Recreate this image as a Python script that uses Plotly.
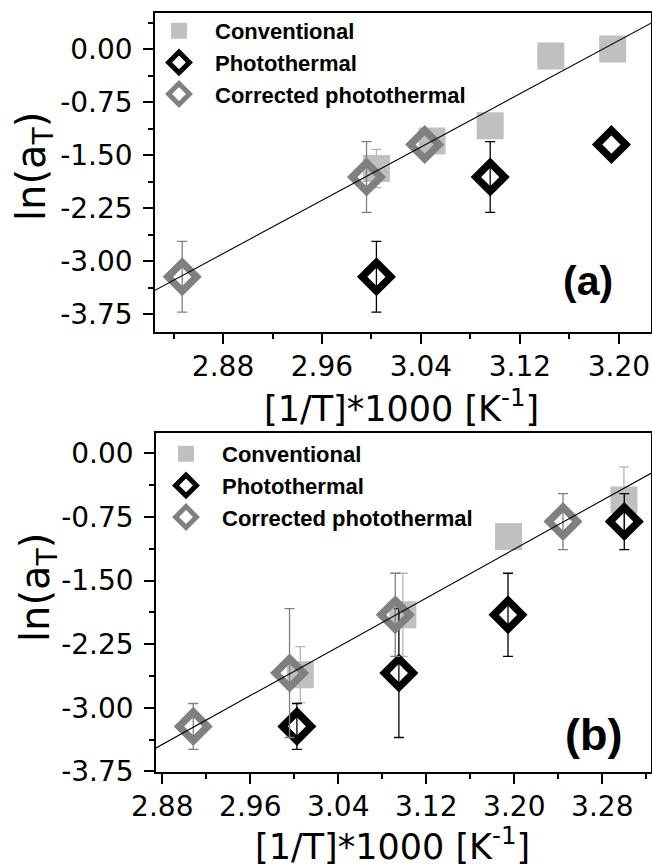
import plotly.graph_objects as go

W, H = 652, 864

# ---------------- Panel (a) data ----------------
conv_x_a = [3.004, 3.049, 3.096, 3.145, 3.195]
conv_y_a = [-1.69, -1.30, -1.085, -0.10, 0.00]
conv_e_a = [0.27, 0.12, None, None, None]

photo_x_a = [3.004, 3.096, 3.194]
photo_y_a = [-3.22, -1.81, -1.35]
photo_e_a = [0.50, 0.50, None]

corr_x_a = [2.847, 2.996, 3.043]
corr_y_a = [-3.22, -1.81, -1.35]
corr_e_a = [0.50, 0.50, None]

fit_a = [9.414, -30.005]          # slope, intercept
xrange_a = [2.825, 3.226]
yrange_a = [-4.005, 0.505]
xticks_a = [2.88, 2.96, 3.04, 3.12, 3.20]

# ---------------- Panel (b) data ----------------
conv_x_b = [3.0055, 3.0987, 3.1948, 3.2997]
conv_y_b = [-2.61, -1.904, -0.982, -0.55]
conv_e_b = [0.33, 0.49, None, 0.39]

photo_x_b = [3.0024, 3.0951, 3.1943, 3.300]
photo_y_b = [-3.219, -2.59, -1.904, -0.805]
photo_e_b = [0.27, 0.76, 0.49, 0.33]

corr_x_b = [2.9082, 2.9957, 3.0918, 3.2443]
corr_y_b = [-3.219, -2.59, -1.904, -0.805]
corr_e_b = [0.27, 0.76, 0.49, 0.33]

fit_b = [7.194, -24.151]
xrange_b = [2.8743, 3.3243]
yrange_b = [-3.76, 0.235]
xticks_b = [2.88, 2.96, 3.04, 3.12, 3.20, 3.28]

yticks = [0.00, -0.75, -1.50, -2.25, -3.00, -3.75]

names = ["Conventional", "Photothermal", "Corrected photothermal"]

# ---------------- styles ----------------
C_CONV = "#c0c0c0"
C_CONV_ERR = "#b4b4b4"
C_PHOTO = "#000000"
C_CORR = "#808080"
TICK_FONT = dict(family="DejaVu Sans", size=28, color="black")
TITLE_FAMILY = "DejaVu Sans"
LEG_FONT = dict(family="Liberation Sans, Arial", size=22, color="black", weight="bold")


def px_x(p):
    return p / W


def px_y(p):
    return 1 - p / H


def minor_vals(major, lo, hi):
    step = major[1] - major[0]
    vals = [major[0] - step / 2] + [m + step / 2 for m in major]
    return [v for v in vals if min(lo, hi) <= v <= max(lo, hi)]


fig = go.Figure()


def add_series(xa, ya, legend, name, xs, ys, es, marker, ecolor):
    # error bars only for points that have one
    keep = [i for i, e in enumerate(es) if e is not None]
    fig.add_trace(go.Scatter(
        x=[xs[i] for i in keep], y=[ys[i] for i in keep], mode="none",
        showlegend=False, hoverinfo="skip", xaxis=xa, yaxis=ya,
        error_y=dict(type="data", array=[es[i] for i in keep], visible=True,
                     color=ecolor, thickness=1.3, width=5),
    ))
    fig.add_trace(go.Scatter(
        x=xs, y=ys, mode="markers", name=name, legend=legend,
        xaxis=xa, yaxis=ya, marker=marker,
    ))


def add_panel(xa, ya, legend, cx, cy, ce, px_, py_, pe, qx, qy, qe, fit, xr):
    add_series(xa, ya, legend, names[0], cx, cy, ce,
               dict(symbol="square", size=27, color=C_CONV, line=dict(width=0)),
               C_CONV_ERR)
    add_series(xa, ya, legend, names[1], px_, py_, pe,
               dict(symbol="diamond-open", size=22, color=C_PHOTO,
                    line=dict(width=7.4, color=C_PHOTO)),
               C_PHOTO)
    add_series(xa, ya, legend, names[2], qx, qy, qe,
               dict(symbol="diamond-open", size=22, color=C_CORR,
                    line=dict(width=7.4, color=C_CORR)),
               C_CORR)
    fx = list(xr)
    fy = [fit[0] * v + fit[1] for v in fx]
    fig.add_trace(go.Scatter(
        x=fx, y=fy, mode="lines", showlegend=False, xaxis=xa, yaxis=ya,
        line=dict(color="black", width=1.1),
    ))


add_panel("x", "y", "legend", conv_x_a, conv_y_a, conv_e_a,
          photo_x_a, photo_y_a, photo_e_a, corr_x_a, corr_y_a, corr_e_a,
          fit_a, xrange_a)
add_panel("x2", "y2", "legend2", conv_x_b, conv_y_b, conv_e_b,
          photo_x_b, photo_y_b, photo_e_b, corr_x_b, corr_y_b, corr_e_b,
          fit_b, xrange_b)


def xaxis_def(dom, rng, ticks, anchor):
    return dict(
        domain=dom, range=rng, anchor=anchor, automargin=False,
        tickmode="array", tickvals=ticks, ticktext=[f"{t:.2f}" for t in ticks],
        ticks="outside", ticklen=10, tickwidth=1.5, tickcolor="black",
        tickfont=TICK_FONT, ticklabelstandoff=-2,
        showline=True, linecolor="black", linewidth=1.5, mirror=True,
        showgrid=False, zeroline=False,
        minor=dict(tickmode="array", tickvals=minor_vals(ticks, *rng),
                   ticks="outside", ticklen=5, tickwidth=1.5, tickcolor="black",
                   showgrid=False),
    )


def yaxis_def(dom, rng, anchor, right=False, overlay=None):
    d = dict(
        domain=dom, range=rng, anchor=anchor, automargin=False,
        tickmode="array", tickvals=yticks, ticktext=[f"{t:.2f}" for t in yticks],
        ticklen=10, tickwidth=1.5, tickcolor="black",
        showgrid=False, zeroline=False,
        minor=dict(tickmode="array", tickvals=minor_vals(yticks, *rng),
                   ticklen=5, tickwidth=1.5, tickcolor="black", showgrid=False),
    )
    if right:
        d.update(side="right", overlaying=overlay, ticks="inside",
                 showticklabels=False, showline=False)
        d["minor"]["ticks"] = "inside"
    else:
        d.update(ticks="outside", tickfont=TICK_FONT, ticklabelstandoff=5,
                 showline=True, linecolor="black", linewidth=1.5, mirror=True)
        d["minor"]["ticks"] = "outside"
    return d


xdom_a = [px_x(155), px_x(651)]
ydom_a = [px_y(332.3), px_y(13.3)]
xdom_b = [px_x(156), px_x(651)]
ydom_b = [px_y(772.3), px_y(433.3)]

fig.update_layout(
    width=W, height=H,
    margin=dict(l=0, r=0, t=0, b=0, autoexpand=False),
    paper_bgcolor="white", plot_bgcolor="white",
    xaxis=xaxis_def(xdom_a, xrange_a, xticks_a, "y"),
    yaxis=yaxis_def(ydom_a, yrange_a, "x"),
    yaxis3=yaxis_def(ydom_a, yrange_a, "x", right=True, overlay="y"),
    xaxis2=xaxis_def(xdom_b, xrange_b, xticks_b, "y2"),
    yaxis2=yaxis_def(ydom_b, yrange_b, "x2"),
    yaxis4=yaxis_def(ydom_b, yrange_b, "x2", right=True, overlay="y2"),
    legend=dict(x=px_x(143), y=px_y(10), xanchor="left", yanchor="top",
                font=LEG_FONT, itemwidth=62, bgcolor="rgba(0,0,0,0)",
                borderwidth=0, tracegroupgap=0),
    legend2=dict(x=px_x(150), y=px_y(433), xanchor="left", yanchor="top",
                 font=LEG_FONT, itemwidth=62, bgcolor="rgba(0,0,0,0)",
                 borderwidth=0, tracegroupgap=0),
    showlegend=True,
)

annotations = [
    # panel labels
    dict(text="(a)", x=px_x(588), y=px_y(281), font=dict(family="Liberation Sans, Arial",
         size=41, color="black", weight="bold")),
    dict(text="(b)", x=px_x(593), y=px_y(734), font=dict(family="Liberation Sans, Arial",
         size=45, color="black", weight="bold")),
    # x titles
    dict(text="[1/T]*1000 [K<sup>-1</sup>]", x=px_x(401), y=px_y(406),
         font=dict(family=TITLE_FAMILY, size=35, color="black")),
    dict(text="[1/T]*1000 [K<sup>-1</sup>]", x=px_x(392), y=px_y(844),
         font=dict(family=TITLE_FAMILY, size=35, color="black")),
    # y titles
    dict(text="ln(a<sub>T</sub>)", x=px_x(34), y=px_y(167), textangle=-90,
         font=dict(family=TITLE_FAMILY, size=40, color="black")),
    dict(text="ln(a<sub>T</sub>)", x=px_x(38), y=px_y(588), textangle=-90,
         font=dict(family=TITLE_FAMILY, size=40, color="black")),
]
for a in annotations:
    a.update(xref="paper", yref="paper", showarrow=False,
             xanchor="center", yanchor="middle")
fig.update_layout(annotations=annotations)

fig.write_html("out.html")
